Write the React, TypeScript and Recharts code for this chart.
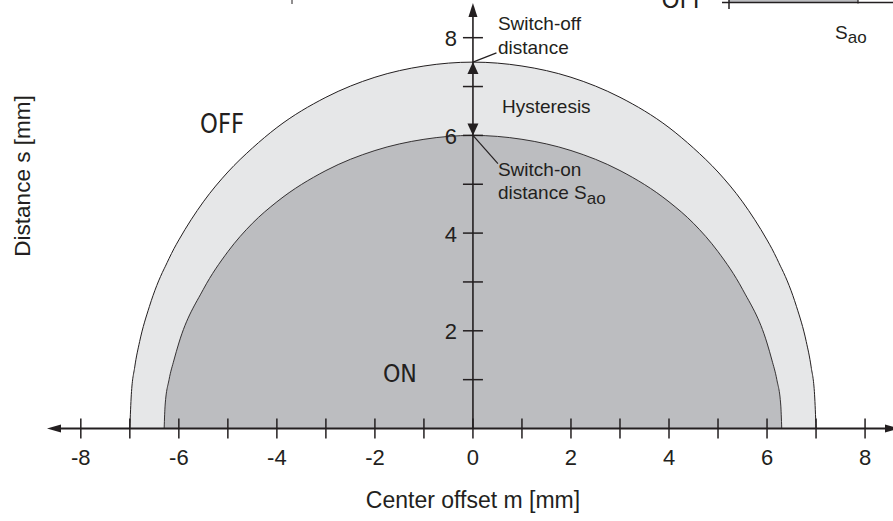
import React from 'react';
import { ComposedChart, Area, XAxis, YAxis, ReferenceLine, Scatter } from 'recharts';

// center offset m [mm] at which the two curves were read
const offsets = [-7, -6.97, -6.9, -6.8, -6.6, -6.3, -6.28, -6.2, -6.1, -6, -5.5, -5, -4.5, -4, -3, -2, -1, 0, 1, 2, 3, 4, 4.5, 5, 5.5, 6, 6.1, 6.2, 6.28, 6.3, 6.6, 6.8, 6.9, 6.97, 7];
// switch-off distance, outer curve [mm]
const switchOff = [0, 0.69, 1.26, 1.78, 2.5, 3.27, 3.31, 3.48, 3.68, 3.86, 4.64, 5.25, 5.74, 6.16, 6.78, 7.19, 7.42, 7.5, 7.42, 7.19, 6.78, 6.16, 5.74, 5.25, 4.64, 3.86, 3.68, 3.48, 3.31, 3.27, 2.5, 1.78, 1.26, 0.69, 0];
// switch-on distance, inner curve [mm]
const switchOn = [null, null, null, null, null, 0, 0.48, 1.0, 1.4, 1.75, 2.85, 3.62, 4.2, 4.64, 5.28, 5.69, 5.92, 6, 5.92, 5.69, 5.28, 4.64, 4.2, 3.62, 2.85, 1.75, 1.4, 1.0, 0.48, 0, null, null, null, null, null];

const xTicks = [-8, -7, -6, -5, -4, -3, -2, -1, 0, 1, 2, 3, 4, 5, 6, 7, 8];
const xTickLabels = [-8, -6, -4, -2, 0, 2, 4, 6, 8];
const yTicks = [1, 2, 3, 4, 5, 6, 7, 8];
const yTickLabels = [2, 4, 6, 8];

const ink = '#231f20';
const sans = '"Liberation Sans", Arial, sans-serif';
const round = '"DejaVu Sans", Verdana, sans-serif';

const table = offsets.map((m, i) => ({ m, off: switchOff[i], on: switchOn[i] }));
const xTickData = xTicks.map((m) => ({ m, s: 0 }));
const yTickData = yTicks.map((s) => ({ m: 0, s }));
const offPeak = Math.max(...switchOff);
const onPeak = Math.max(...(switchOn.filter((v) => v !== null) as number[]));
const hystData = [
  { m: 0, s: offPeak, dir: 'up' },
  { m: 0, s: onPeak, dir: 'down' },
];
// the text block is hung on the switch-on peak
const noteAnchor = [{ m: 0, s: onPeak }];

const XTick = (p: any) => {
  const { cx, cy, payload } = p;
  return (
    <g>
      <line x1={cx} y1={cy - 10} x2={cx} y2={cy + 10} stroke={ink} strokeWidth={1.5} />
      {xTickLabels.includes(payload.m) && (
        <text x={cx} y={cy + 36} textAnchor="middle" fontSize={22} fontFamily={sans} fill={ink}>
          {String(payload.m)}
        </text>
      )}
    </g>
  );
};

const YTick = (p: any) => {
  const { cx, cy, payload } = p;
  return (
    <g>
      <line x1={cx - 10} y1={cy} x2={cx + 10} y2={cy} stroke={ink} strokeWidth={1.5} />
      {yTickLabels.includes(payload.s) && (
        <text x={cx - 16} y={cy + 8.5} textAnchor="end" fontSize={22} fontFamily={sans} fill={ink}>
          {String(payload.s)}
        </text>
      )}
    </g>
  );
};

const HystArrow = (p: any) => {
  const { cx, cy, payload } = p;
  const d = payload.dir === 'up'
    ? `M${cx},${cy} L${cx - 5.5},${cy + 12} L${cx + 5.5},${cy + 12} Z`
    : `M${cx},${cy} L${cx - 5.5},${cy - 12} L${cx + 5.5},${cy - 12} Z`;
  return <path d={d} fill={ink} />;
};

const Notes = (p: any) => {
  const { cx, cy } = p;
  return (
    <g fontFamily={sans} fontSize={19} fill={ink}>
      <text x={cx + 25} y={cy - 105}>Switch-off</text>
      <text x={cx + 25} y={cy - 81}>distance</text>
      <text x={cx + 29} y={cy - 22}>Hysteresis</text>
      <text x={cx + 25} y={cy + 41}>Switch-on</text>
      <text x={cx + 25} y={cy + 64}>
        distance S<tspan fontSize={17} dy={5}>ao</tspan>
      </text>
      <text x={cx - 73} y={cy + 247} textAnchor="middle" fontSize={25} fontFamily={round} textLength={34} lengthAdjust="spacingAndGlyphs">
        ON
      </text>
    </g>
  );
};

const HorizontalAxis = (p: any) => {
  const a = Math.min(p.x1, p.x2);
  const b = Math.max(p.x1, p.x2);
  const y = p.y1;
  return (
    <g>
      <line x1={a + 6} y1={y} x2={b} y2={y} stroke={ink} strokeWidth={2.2} />
      <path d={`M${a},${y} L${a + 14},${y - 4} L${a + 14},${y + 4} Z`} fill={ink} />
      <path d={`M${b + 6},${y} L${b - 8},${y - 4} L${b - 8},${y + 4} Z`} fill={ink} />
    </g>
  );
};

const VerticalAxis = (p: any) => {
  const top = Math.min(p.y1, p.y2);
  const bottom = Math.max(p.y1, p.y2);
  const x = p.x1;
  return (
    <g>
      <line x1={x} y1={bottom} x2={x} y2={top + 6} stroke={ink} strokeWidth={1.6} />
      <path d={`M${x},${top} L${x - 4.5},${top + 14} L${x + 4.5},${top + 14} Z`} fill={ink} />
    </g>
  );
};

export default function App() {
  return (
    <div style={{ position: 'absolute', left: 0, top: 0, background: '#fff' }}>
      <ComposedChart
        width={893}
        height={521}
        data={table}
        margin={{ top: 3, right: 0, bottom: 92.5, left: 47 }}
      >
        <XAxis dataKey="m" type="number" domain={[-8.69, 8.57]} hide />
        <YAxis dataKey="s" type="number" domain={[0, 8.71]} hide />
        <Area
          dataKey="off"
          type="monotone"
          fill="#e6e7e8"
          fillOpacity={1}
          stroke={ink}
          strokeWidth={1}
          isAnimationActive={false}
          dot={false}
          activeDot={false}
        />
        <Area
          dataKey="on"
          type="monotone"
          fill="#bcbdc0"
          fillOpacity={1}
          stroke={ink}
          strokeWidth={0.9}
          isAnimationActive={false}
          dot={false}
          activeDot={false}
        />
        <ReferenceLine y={0} shape={HorizontalAxis} />
        <ReferenceLine x={0} shape={VerticalAxis} />
        <ReferenceLine segment={[{ x: 0, y: offPeak }, { x: 0.48, y: 7.69 }]} stroke={ink} strokeWidth={1.2} />
        <ReferenceLine segment={[{ x: 0, y: onPeak }, { x: 0.51, y: 5.42 }]} stroke={ink} strokeWidth={1.2} />
        <Scatter data={xTickData} dataKey="s" shape={XTick} isAnimationActive={false} />
        <Scatter data={yTickData} dataKey="s" shape={YTick} isAnimationActive={false} />
        <Scatter data={hystData} dataKey="s" shape={HystArrow} isAnimationActive={false} />
        <Scatter data={noteAnchor} dataKey="s" shape={Notes} isAnimationActive={false} />

        <text transform="translate(29.5,176) rotate(-90)" textAnchor="middle" fontSize={22.5} fontFamily={sans} fill={ink}>
          Distance s [mm]
        </text>
        <text x={473} y={508} textAnchor="middle" fontSize={23} fontFamily={sans} fill={ink}>
          Center offset m [mm]
        </text>
        <text x={222} y={133} textAnchor="middle" fontSize={26} fontFamily={round} fill={ink} textLength={44} lengthAdjust="spacingAndGlyphs">
          OFF
        </text>

        {/* cut-off pieces of the neighbouring figure */}
        <line x1={292} y1={0} x2={292} y2={4} stroke={ink} strokeWidth={1} />
        <text x={706} y={7.5} textAnchor="end" fontSize={23} fontFamily={round} fill={ink}>OFF</text>
        <rect x={729} y={0} width={129} height={2} fill="#bcbdc0" />
        <line x1={722} y1={2.5} x2={893} y2={2.5} stroke={ink} strokeWidth={1.5} />
        <line x1={729} y1={0} x2={729} y2={9} stroke={ink} strokeWidth={1.5} />
        <line x1={858} y1={0} x2={858} y2={3.5} stroke={ink} strokeWidth={1.2} />
        <text x={835} y={39} fontSize={19} fontFamily={sans} fill={ink}>
          S<tspan fontSize={17} dy={4}>ao</tspan>
        </text>
      </ComposedChart>
    </div>
  );
}
